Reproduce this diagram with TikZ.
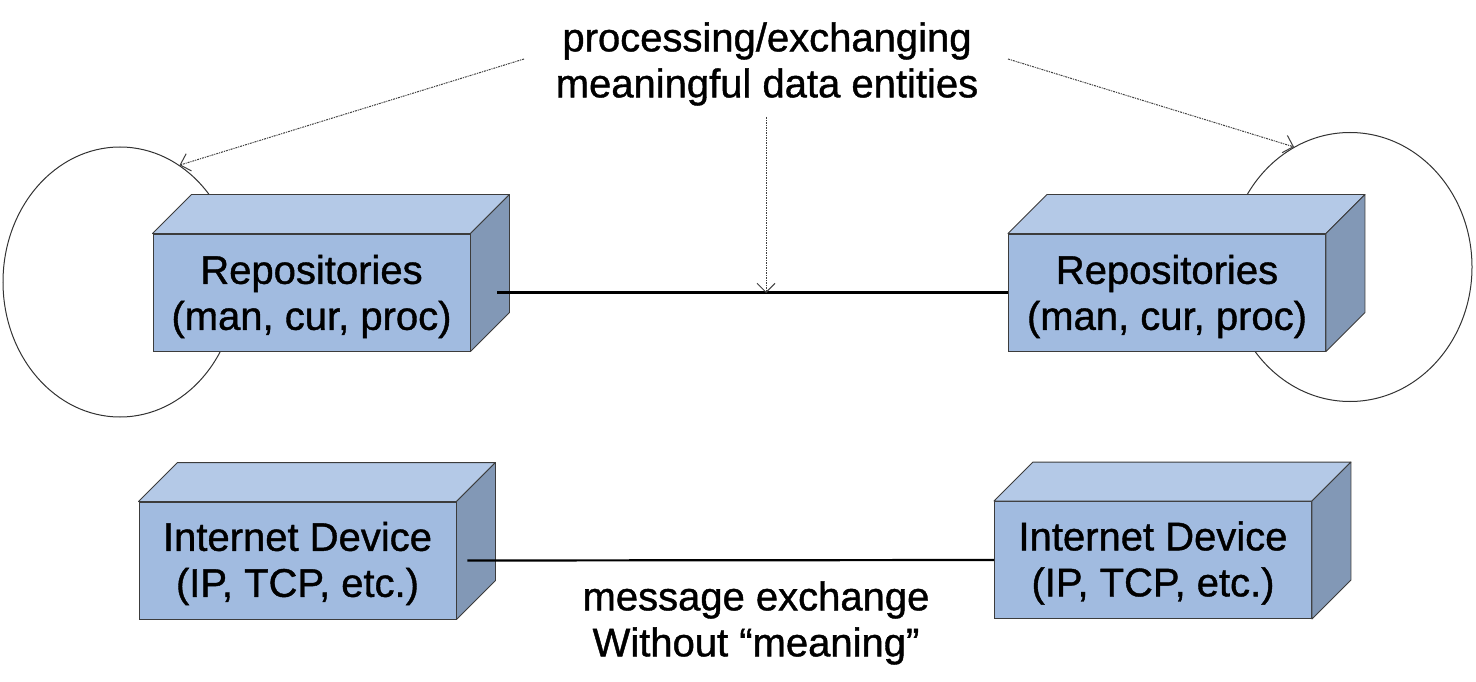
\documentclass[tikz,border=0pt]{standalone}
\usepackage{fontspec}
\setmainfont[FakeBold=1.0]{Liberation Sans}
\usetikzlibrary{shapes.geometric,arrows.meta}
\definecolor{frontcol}{RGB}{161,187,224}
\definecolor{topcol}{RGB}{180,201,231}
\definecolor{sidecol}{RGB}{130,152,182}
\definecolor{edgecol}{RGB}{60,60,60}
\tikzset{
  front/.style={rectangle, draw=edgecol, line width=0.9pt, fill=frontcol, minimum width=317pt, minimum height=117pt, inner sep=0pt},
  boxtext/.style={align=center, inner sep=0pt, font=\fontsize{40}{46}\selectfont},
  topface/.style={draw=edgecol, line width=0.9pt, fill=topcol, line join=round},
  sideface/.style={draw=edgecol, line width=0.9pt, fill=sidecol, line join=round},
  loop/.style={ellipse, draw=black!80, line width=1pt, inner sep=0pt},
  link/.style={draw=black, line width=2.2pt},
  dotarrow/.style={draw=black!75, line width=1pt, dash pattern=on 2pt off 1pt on 1pt off 1pt, -{Straight Barb[length=9pt,width=18pt,line width=1pt]}},
  label/.style={align=center, font=\fontsize{40}{46}\selectfont}
}
\begin{document}
\begin{tikzpicture}[x=1pt,y=-1pt]
\useasboundingbox[fill=white] (0,0) rectangle (1476,682);
% loops (behind boxes)
\node[loop, minimum width=234pt, minimum height=270pt] (cL) at (120,282) {};
\node[loop, minimum width=244pt, minimum height=269pt] (cR) at (1350,267) {};
% boxes
\node[front] (repL) at (311.5,292.5) {};
\node[front] (repR) at (1167,292.5) {};
\node[front] (devL) at (297.5,560.5) {};
\node[front] (devR) at (1153,560) {};
\foreach \b in {repL,repR,devL,devR}{
  \path[topface] (\b.north west) -- ([shift={(39,-39)}]\b.north west) -- ([shift={(39,-39)}]\b.north east) -- (\b.north east) -- cycle;
  \path[sideface] (\b.north east) -- ([shift={(39,-39)}]\b.north east) -- ([shift={(39,-39)}]\b.south east) -- (\b.south east) -- cycle;
}
\node[boxtext] (repLt) at ([yshift=-4pt]repL.center) {Repositories\\(man, cur, proc)};
\node[boxtext] (repRt) at ([yshift=-4pt]repR.center) {Repositories\\(man, cur, proc)};
\node[boxtext] (devLt) at ([yshift=-3pt]devL.center) {Internet Device\\(IP, TCP, etc.)};
\node[boxtext] (devRt) at ([yshift=-3pt]devR.center) {Internet Device\\(IP, TCP, etc.)};
% labels
\node[label] (top) at (767,64) {processing/exchanging\\meaningful data entities};
\node[label] (bot) at (756,623) {message exchange\\Without “meaning”};
% connectors
\coordinate (jL) at ([xshift=27pt]repL.east);
\draw[link] (jL) -- (repR.west);
\coordinate (kL) at ([xshift=11pt]devL.east);
\draw[link] (kL) -- (devR.west);
\coordinate (sL) at (524,59);
\coordinate (sR) at (1008,59);
\coordinate (sM) at (766,117);
\coordinate (eM) at (766,293);
\draw[dotarrow] (sL) -- (cL.63);
\draw[dotarrow] (sR) -- (cR.115);
\draw[dotarrow] (sM) -- (eM);
\end{tikzpicture}
\end{document}
